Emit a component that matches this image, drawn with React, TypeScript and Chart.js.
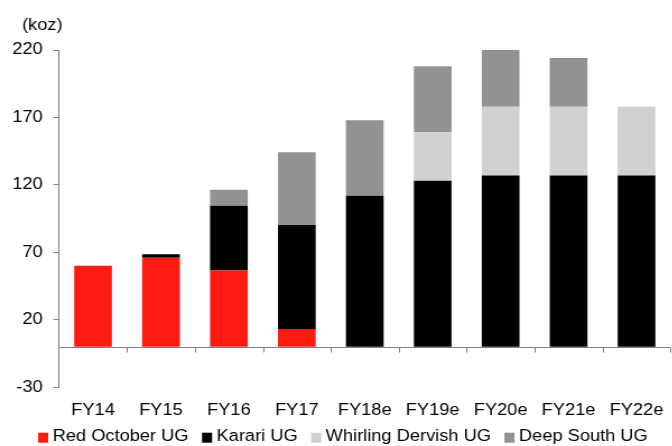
import React, { useEffect, useRef } from "react";
import { Chart, registerables } from "chart.js";

Chart.register(...registerables);

const categories = ["FY14", "FY15", "FY16", "FY17", "FY18e", "FY19e", "FY20e", "FY21e", "FY22e"];
const redOctober = [60, 66, 56.5, 13.3, null, null, null, null, null];
const karari = [null, 2.7, 48, 77, 112, 123, 127, 127, 127];
const whirlingDervish = [null, null, null, null, null, 36, 51, 51, 51];
const deepSouth = [null, null, 12, 54, 56, 49, 42, 36, null];
const yTicks = [-30, 20, 70, 120, 170, 220];
const seriesLabels = ["Red October UG", "Karari UG", "Whirling Dervish UG", "Deep South UG"];
const seriesColors = ["#ff1a12", "#000000", "#d0d0d0", "#929292"];
const unitLabel = "(koz)";

const FONT = '"Liberation Sans", Arial, sans-serif';
const FONT_SIZE = 16.3;
const AXIS_GRAY = "#808080";

const extrasPlugin = {
  id: "extras",
  afterDraw(chart: any) {
    const ctx = chart.ctx;
    const area = chart.chartArea;
    const y = chart.scales.y;
    ctx.save();
    // zero line with category boundary ticks
    const y0 = Math.round(y.getPixelForValue(0)) + 0.5;
    ctx.strokeStyle = AXIS_GRAY;
    ctx.lineWidth = 1;
    ctx.beginPath();
    ctx.moveTo(area.left, y0);
    ctx.lineTo(area.right, y0);
    const n = chart.data.labels.length;
    const w = (area.right - area.left) / n;
    for (let i = 1; i <= n; i++) {
      const bx = Math.round(area.left + i * w) + 0.5;
      ctx.moveTo(bx, y0);
      ctx.lineTo(bx, y0 + 5);
    }
    ctx.stroke();

    // unit label
    ctx.fillStyle = "#000";
    ctx.font = `${FONT_SIZE}px ${FONT}`;
    ctx.textBaseline = "middle";
    ctx.textAlign = "left";
    ctx.fillText(unitLabel, area.left - 33, area.top - 24);

    // legend
    const ds = chart.data.datasets;
    const boxW = 9;
    const boxH = 10;
    const gap = 4;
    const itemGap = 12;
    const widths = ds.map((d: any) => ctx.measureText(d.label).width);
    let total = 0;
    widths.forEach((tw: number, i: number) => {
      total += boxW + gap + tw + (i < widths.length - 1 ? itemGap : 0);
    });
    let lx = chart.width / 2 + 3.5 - total / 2;
    const ly = chart.height - 9;
    ds.forEach((d: any, i: number) => {
      ctx.fillStyle = d.backgroundColor;
      ctx.fillRect(lx, ly - 4.3, boxW, boxH);
      lx += boxW + gap;
      ctx.fillStyle = "#000";
      ctx.fillText(d.label, lx, ly);
      lx += widths[i] + itemGap;
    });
    ctx.restore();
  },
};

export default function App() {
  const ref = useRef<HTMLCanvasElement>(null);

  useEffect(() => {
    if (!ref.current) return;
    const series = [redOctober, karari, whirlingDervish, deepSouth];
    const chart = new Chart(ref.current, {
      type: "bar",
      data: {
        labels: categories,
        datasets: series.map((data, i) => ({
          label: seriesLabels[i],
          data,
          backgroundColor: seriesColors[i],
          borderWidth: 0,
          categoryPercentage: 1,
          barPercentage: 0.555,
        })),
      },
      options: {
        responsive: false,
        animation: false,
        devicePixelRatio: 1,
        layout: { padding: { top: 50, left: 0, right: 1, bottom: 22.7 } },
        plugins: {
          legend: { display: false },
          tooltip: { enabled: false },
        },
        scales: {
          x: {
            stacked: true,
            grid: { display: false, drawTicks: false },
            border: { display: false },
            ticks: {
              color: "#000",
              padding: 13,
              maxRotation: 0,
              autoSkip: false,
              font: { family: FONT, size: FONT_SIZE },
            },
            afterFit: (s: any) => {
              s.height = 36;
            },
          },
          y: {
            stacked: true,
            min: -30,
            max: 220,
            grid: {
              drawOnChartArea: false,
              drawTicks: true,
              tickLength: 5,
              color: AXIS_GRAY,
            },
            border: { display: true, color: AXIS_GRAY, width: 1 },
            ticks: {
              color: "#000",
              padding: 9.6,
              font: { family: FONT, size: FONT_SIZE },
            },
            afterBuildTicks: (s: any) => {
              s.ticks = yTicks.map((v) => ({ value: v }));
            },
            afterFit: (s: any) => {
              s.width = 52.7;
            },
          },
        },
      },
      plugins: [extrasPlugin],
    } as any);
    return () => chart.destroy();
  }, []);

  return (
    <div
      style={{
        position: "fixed",
        left: 0,
        top: 0,
        width: 672,
        height: 446,
        overflow: "hidden",
        background: "#fff",
      }}
    >
      <canvas
        ref={ref}
        width={605}
        height={446}
        style={{ width: "677.6px", height: "446px", display: "block" }}
      />
    </div>
  );
}
